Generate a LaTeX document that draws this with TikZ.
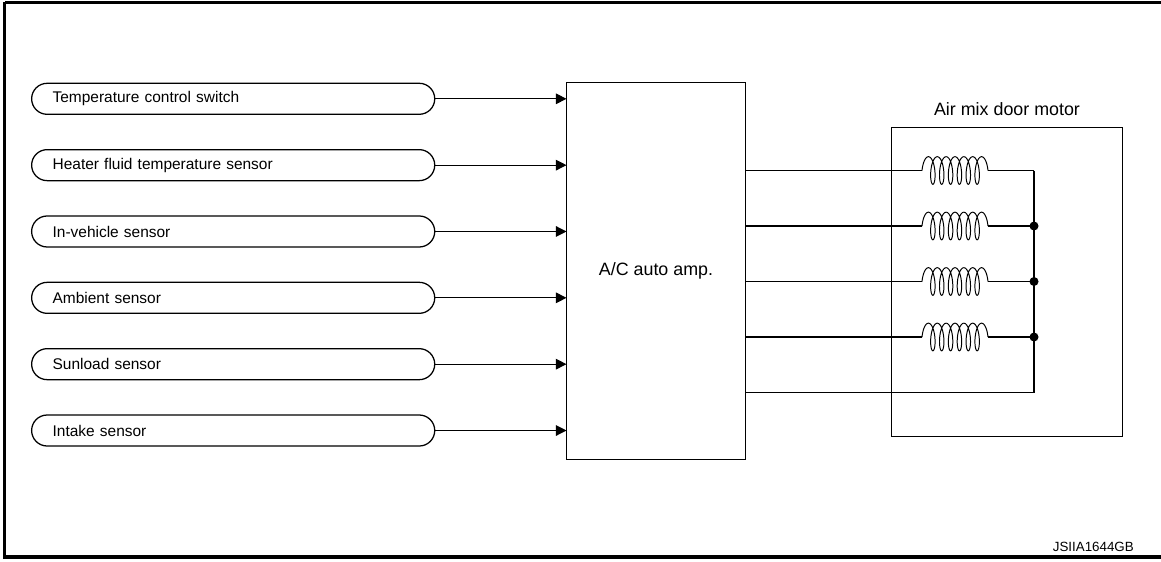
\documentclass[tikz,border=0pt]{standalone}
\usepackage{fontspec}
\setmainfont{Liberation Sans}
\usetikzlibrary{arrows.meta}

\begin{document}
\begin{tikzpicture}[x=0.025cm,y=-0.025cm,
  sensor/.style={draw,line width=0.9pt,rounded corners=0.3875cm,minimum height=0.775cm,
    inner xsep=0.525cm,text width=9.025cm,align=left,anchor=west,font=\fontsize{11}{13}\selectfont},
  unit/.style={draw,line width=0.7pt,inner sep=0pt,font=\fontsize{12.7}{15}\selectfont},
  wire/.style={line width=0.8pt},
  winding/.style={line width=0.7pt},
  >={Triangle[length=7.5pt,width=7.5pt]}]
  \useasboundingbox (0,0) rectangle (1161,561);
  \draw[line width=1.8pt] (1161,2.5) -- (4.5,2.5);
  \draw[line width=2.2pt] (4.5,1.5) -- (4.5,557);
  \draw[line width=2.8pt] (3.4,557) -- (1161,557);

  \node[unit,minimum width=4.45cm,minimum height=9.425cm] (amp) at (656,270.7) {A/C auto amp.};
  \node[unit,minimum width=5.75cm,minimum height=7.725cm] (motor) at (1007,282.2) {};
  \node[font=\fontsize{12.7}{15}\selectfont] (motorlabel) at (1007,109.3) {Air mix door motor};

  \foreach \i/\t in {1/Temperature control switch,2/Heater fluid temperature sensor,
      3/In-vehicle sensor,4/Ambient sensor,5/Sunload sensor,6/Intake sensor}{
    \node[sensor] (s\i) at (31,{98.8+66.34*(\i-1)}) {\t};
    \draw[wire,->] (s\i.east) -- (s\i.east -| amp.west);
  }

  \foreach \i in {1,...,5}{
    \coordinate (j\i) at (1034,{170.5+55.5*(\i-1)});
  }
  \foreach \i in {1,...,4}{
    \coordinate (ca\i) at (922,{170.5+55.5*(\i-1)});
    \coordinate (cb\i) at (988,{170.5+55.5*(\i-1)});
    \draw[wire] (ca\i -| amp.east) -- (ca\i);
    \draw[winding,shift={(ca\i)}] plot[domain=-0.5*pi:12.5*pi,samples=400,smooth,variable=\t]
      ({4.2+1.41*(\t+pi/2)+4.2*sin(\t r)},{-13.8*cos(\t r)});
    \draw[wire] (cb\i) -- (j\i);
  }
  \draw[wire] (j5 -| amp.east) -- (j5);
  \draw[wire] (j1) -- (j5);
  \foreach \i in {2,3,4}{
    \fill (j\i) circle[radius=3.2pt];
  }

  \node[font=\fontsize{9.5}{11}\selectfont] (code) at (1093.3,546.7) {JSIIA1644GB};
\end{tikzpicture}
\end{document}
